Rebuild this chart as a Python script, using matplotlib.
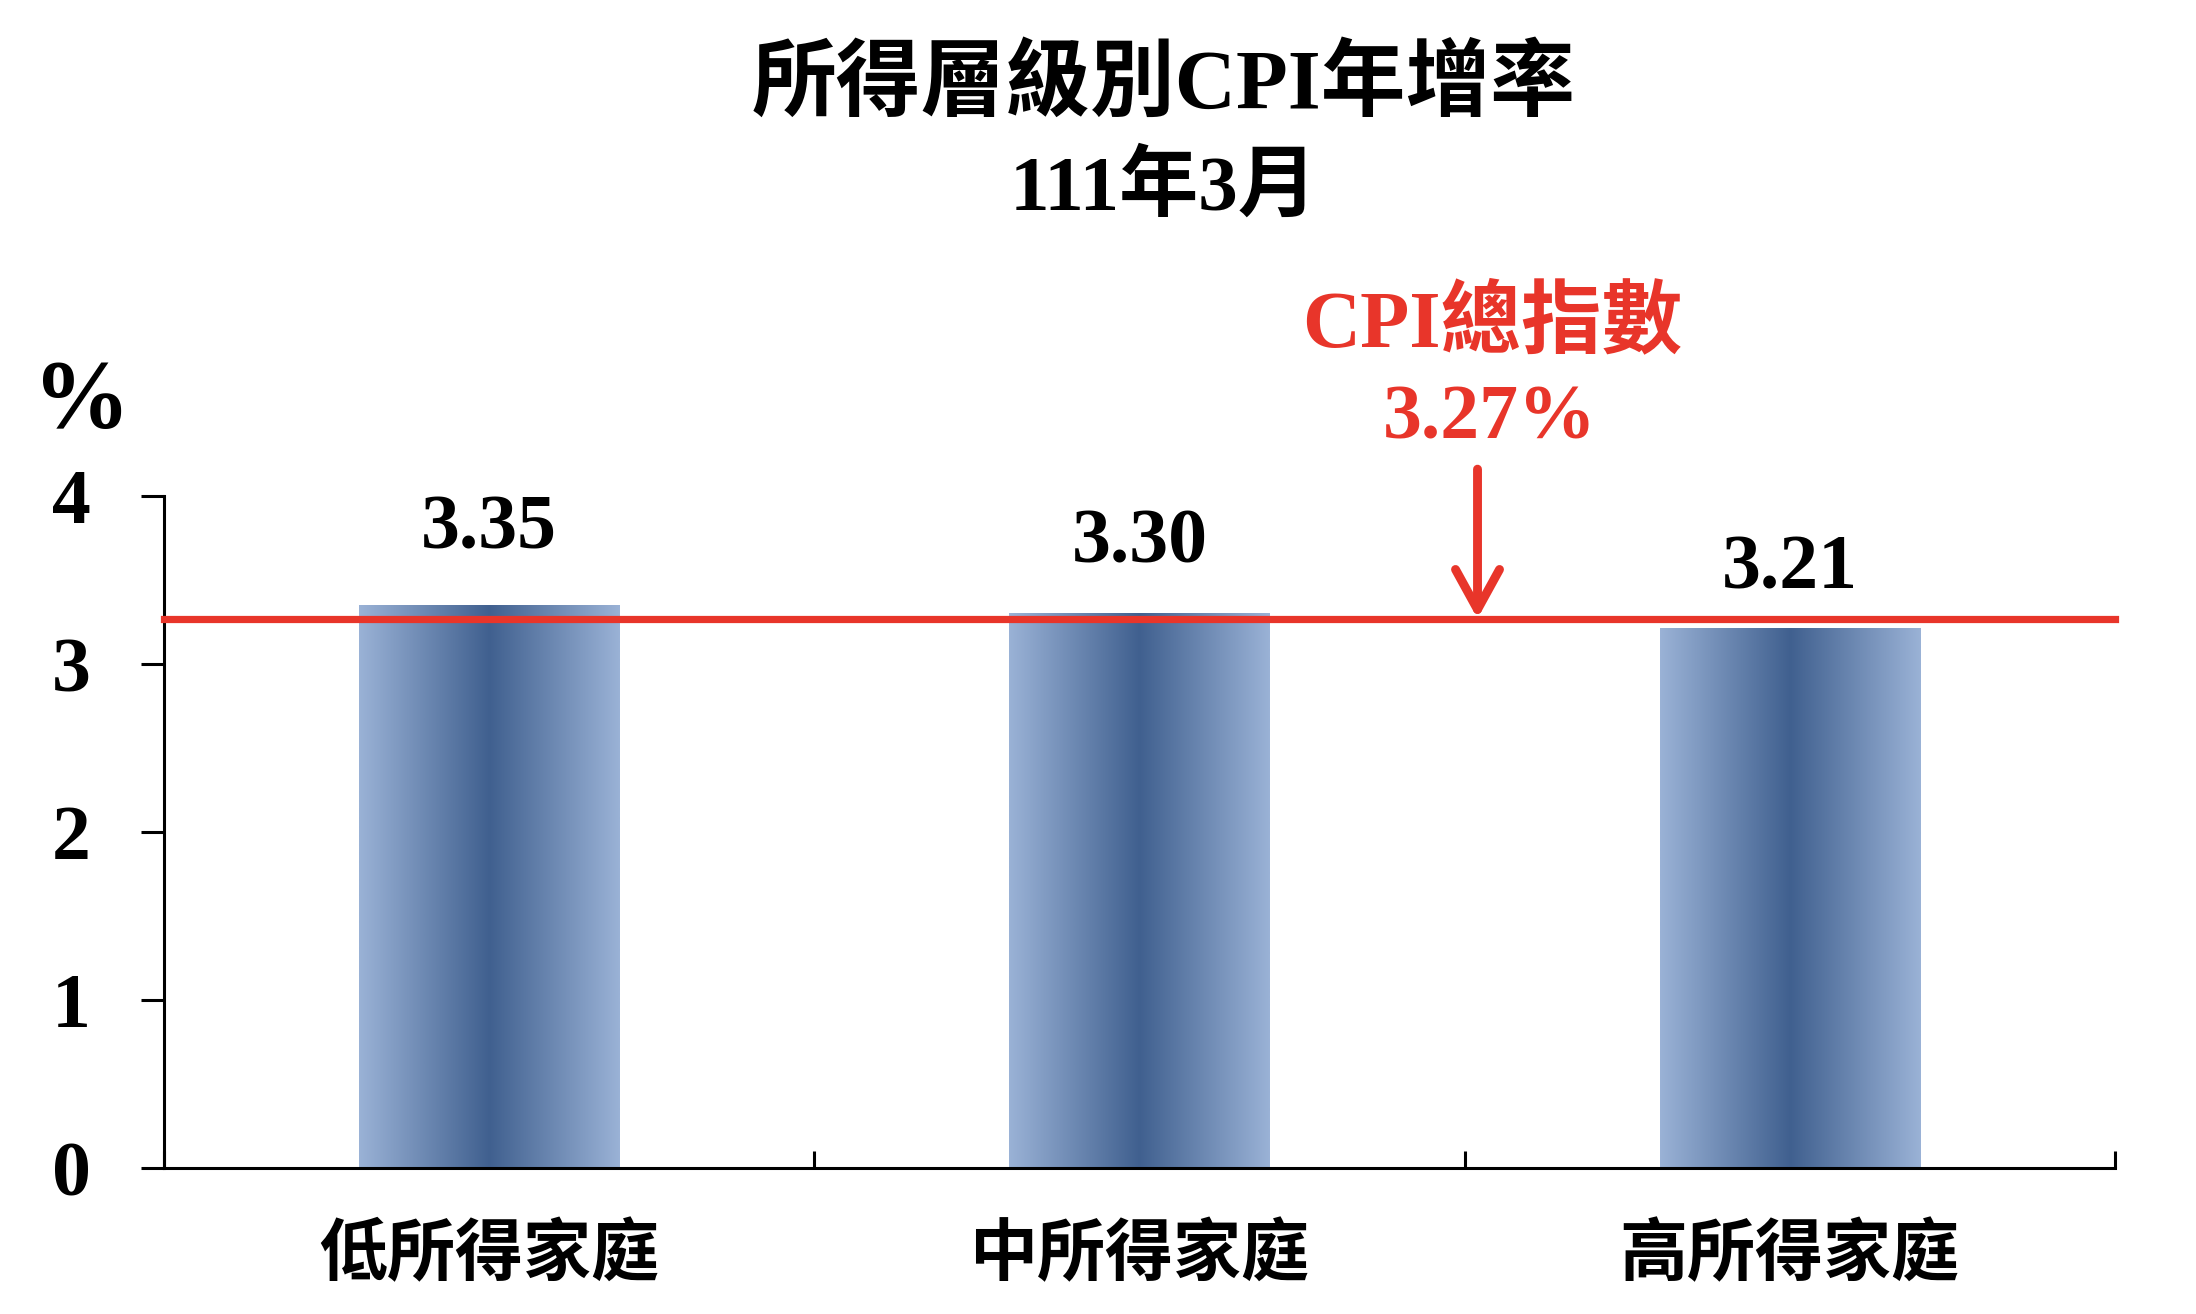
import numpy as np
import matplotlib
matplotlib.use("Agg")
import matplotlib.pyplot as plt
from matplotlib.colors import LinearSegmentedColormap

plt.rcParams['font.family'] = ['Liberation Serif', 'Noto Sans CJK TC']
plt.rcParams['font.weight'] = 'bold'

categories = ['低所得家庭', '中所得家庭', '高所得家庭']
values = [3.35, 3.30, 3.21]
cpi_total = 3.27
title = '所得層級別CPI年增率'
subtitle = '111年3月'

red = '#e8352a'
cmap = LinearSegmentedColormap.from_list('bar', ['#9ab2d6', '#40608f', '#9ab2d6'])

fig = plt.figure(figsize=(10.98, 6.57), dpi=200)
ax = fig.add_axes([0.0747, 0.111, 0.8883, 0.5115])

x = np.arange(len(categories))
bars = ax.bar(x, values, width=0.4, color='none', edgecolor='none')
grad = np.linspace(0, 1, 256).reshape(1, -1)
for b in bars:
    x0, y0 = b.get_x(), b.get_y()
    ax.imshow(grad, cmap=cmap, aspect='auto', interpolation='bilinear',
              extent=[x0, x0 + b.get_width(), y0, y0 + b.get_height()], zorder=2)

# label offsets above the bar tops (points)
offsets = [27, 25, 21]
for xi, v, off in zip(x, values, offsets):
    ax.annotate(f'{v:.2f}', xy=(xi, v), xytext=(0, off), textcoords='offset points',
                ha='center', va='center', fontsize=28, fontweight='bold')

ax.set_xlim(-0.5, 2.5)
ax.set_ylim(0, 4)

ax.axhline(cpi_total, color=red, lw=2.6, zorder=3, clip_on=False)
ax.annotate('', xy=(1.52, cpi_total), xytext=(1.52, 4.16),
            arrowprops=dict(arrowstyle='->,head_length=0.4,head_width=0.22',
                            color=red, lw=3.2, mutation_scale=36,
                            shrinkA=0, shrinkB=0),
            annotation_clip=False)
ax.text(1.543, 5.02, 'CPI總指數', color=red, fontsize=29, fontweight='bold',
        ha='center', va='center', clip_on=False)
ax.text(1.539, 4.45, f'{cpi_total:.2f}%', color=red, fontsize=28, fontweight='bold',
        ha='center', va='center', clip_on=False)
ax.text(-0.626, 4.55, '%', fontsize=35, fontweight='bold', ha='center', va='center',
        clip_on=False)

for s in ['top', 'right']:
    ax.spines[s].set_visible(False)
for s in ['left', 'bottom']:
    ax.spines[s].set_linewidth(1.1)

ax.set_yticks([0, 1, 2, 3, 4])
ax.tick_params(axis='y', direction='out', length=8.3, width=1.1, pad=18, labelsize=28)
ax.set_xticks([-0.5, 0.5, 1.5, 2.5])
ax.set_xticklabels([])
ax.tick_params(axis='x', which='major', direction='in', length=6, width=1.1)
ax.set_xticks(x, minor=True)
ax.set_xticklabels(categories, minor=True, fontsize=24.5, fontweight='bold')
ax.tick_params(axis='x', which='minor', length=0, pad=20)

fig.text(0.53, 0.934, title, ha='center', va='center', fontsize=30.5, fontweight='bold')
fig.text(0.53, 0.856, subtitle, ha='center', va='center', fontsize=28.5, fontweight='bold')

fig.savefig('out.png', dpi=200)
